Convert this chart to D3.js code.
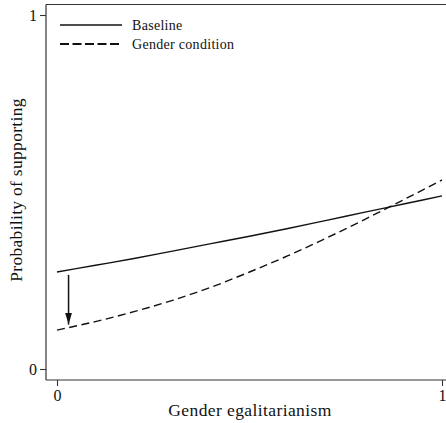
<!DOCTYPE html>
<html>
<head>
<meta charset="utf-8">
<script src="https://cdn.jsdelivr.net/npm/d3@7"></script>
<style>
  html, body { margin: 0; padding: 0; background: #fff; }
  svg { display: block; }
  text { font-family: "Liberation Serif", "DejaVu Serif", serif; fill: #111; }
</style>
</head>
<body>
<svg id="chart" width="446" height="423"></svg>
<script>
// Predicted probability of support across gender egalitarianism
const egalitarianism = [0, 0.1, 0.2, 0.3, 0.4, 0.5, 0.6, 0.7, 0.8, 0.9, 1.0];
const baseline       = [0.274, 0.293, 0.312, 0.333, 0.354, 0.375, 0.397, 0.420, 0.443, 0.466, 0.489];
const genderCond     = [0.110, 0.134, 0.162, 0.194, 0.231, 0.274, 0.320, 0.370, 0.423, 0.478, 0.534];
const seriesNames    = ["Baseline", "Gender condition"];
const xTicks = [0, 1];
const yTicks = [0, 1];
// Treatment effect shown at the low end of the scale
const arrowAt = 0.03;
const arrowFrom = 0.280;
const arrowTo = 0.117;

const svg = d3.select("#chart");
const frame = { left: 46, top: 4.5, bottom: 380, right: 446 };

const x = d3.scaleLinear().domain([0, 1]).range([57, 442]);
const y = d3.scaleLinear().domain([0, 1]).range([369, 15]);

// plot frame: top and left edges
svg.append("line")
  .attr("x1", frame.left).attr("x2", frame.right)
  .attr("y1", frame.top).attr("y2", frame.top)
  .attr("stroke", "#333").attr("stroke-width", 1.2);

// y axis
const yAxis = svg.append("g")
  .attr("transform", `translate(${frame.left},0)`)
  .call(d3.axisLeft(y).tickValues(yTicks).tickFormat(d3.format("d")).tickSize(6).tickPadding(3));
yAxis.select(".domain").attr("d", `M0,${frame.top}V${frame.bottom}`).attr("stroke", "#333").attr("stroke-width", 1.2);

// x axis
const xAxis = svg.append("g")
  .attr("transform", `translate(0,${frame.bottom})`)
  .call(d3.axisBottom(x).tickValues(xTicks).tickFormat(d3.format("d")).tickSize(6).tickPadding(4));
xAxis.select(".domain").attr("d", `M${frame.left},0H${frame.right}`).attr("stroke", "#333").attr("stroke-width", 1.2);

svg.selectAll(".tick line").attr("stroke", "#333").attr("stroke-width", 1.1);
svg.selectAll(".tick text")
  .style("font-family", '"Liberation Serif", "DejaVu Serif", serif')
  .style("font-size", "16px").attr("fill", "#111");

// lines
const line = d3.line()
  .x((d, i) => x(egalitarianism[i]))
  .y(d => y(d))
  .curve(d3.curveMonotoneX);

svg.append("path")
  .attr("d", line(baseline))
  .attr("fill", "none").attr("stroke", "#111").attr("stroke-width", 1.4);

svg.append("path")
  .attr("d", line(genderCond))
  .attr("fill", "none").attr("stroke", "#111").attr("stroke-width", 1.4)
  .attr("stroke-dasharray", "8,4.5");

// arrow
svg.append("defs").append("marker")
  .attr("id", "head")
  .attr("viewBox", "0 0 12 8")
  .attr("refX", 12).attr("refY", 4)
  .attr("markerWidth", 12).attr("markerHeight", 8)
  .attr("markerUnits", "userSpaceOnUse")
  .attr("orient", "auto")
  .append("path").attr("d", "M0,0.5L12,4L0,7.5Z").attr("fill", "#111");

svg.append("line")
  .attr("x1", x(arrowAt)).attr("x2", x(arrowAt))
  .attr("y1", y(arrowFrom) + 5).attr("y2", y(arrowTo) - 3)
  .attr("stroke", "#111").attr("stroke-width", 1.5)
  .attr("marker-end", "url(#head)");

// legend
const legend = svg.append("g");
const legendRows = [
  { name: seriesNames[0], dash: null, yPos: 25 },
  { name: seriesNames[1], dash: "9,3.5", yPos: 44 }
];
legendRows.forEach(r => {
  legend.append("line")
    .attr("x1", 60).attr("x2", 122)
    .attr("y1", r.yPos).attr("y2", r.yPos)
    .attr("stroke", "#111").attr("stroke-width", r.dash ? 1.8 : 1.3)
    .attr("stroke-dasharray", r.dash);
  legend.append("text")
    .attr("x", 132).attr("y", r.yPos + 4.5)
    .style("font-size", "14px")
    .style("letter-spacing", "0.3px")
    .text(r.name);
});

// axis titles
svg.append("text")
  .attr("x", 250).attr("y", 416)
  .attr("text-anchor", "middle")
  .style("font-size", "17.5px")
  .style("letter-spacing", "0.4px")
  .text("Gender egalitarianism");

svg.append("text")
  .attr("transform", "translate(22,190) rotate(-90)")
  .attr("text-anchor", "middle")
  .style("font-size", "17.5px")
  .style("letter-spacing", "0.3px")
  .text("Probability of supporting");
</script>
</body>
</html>
